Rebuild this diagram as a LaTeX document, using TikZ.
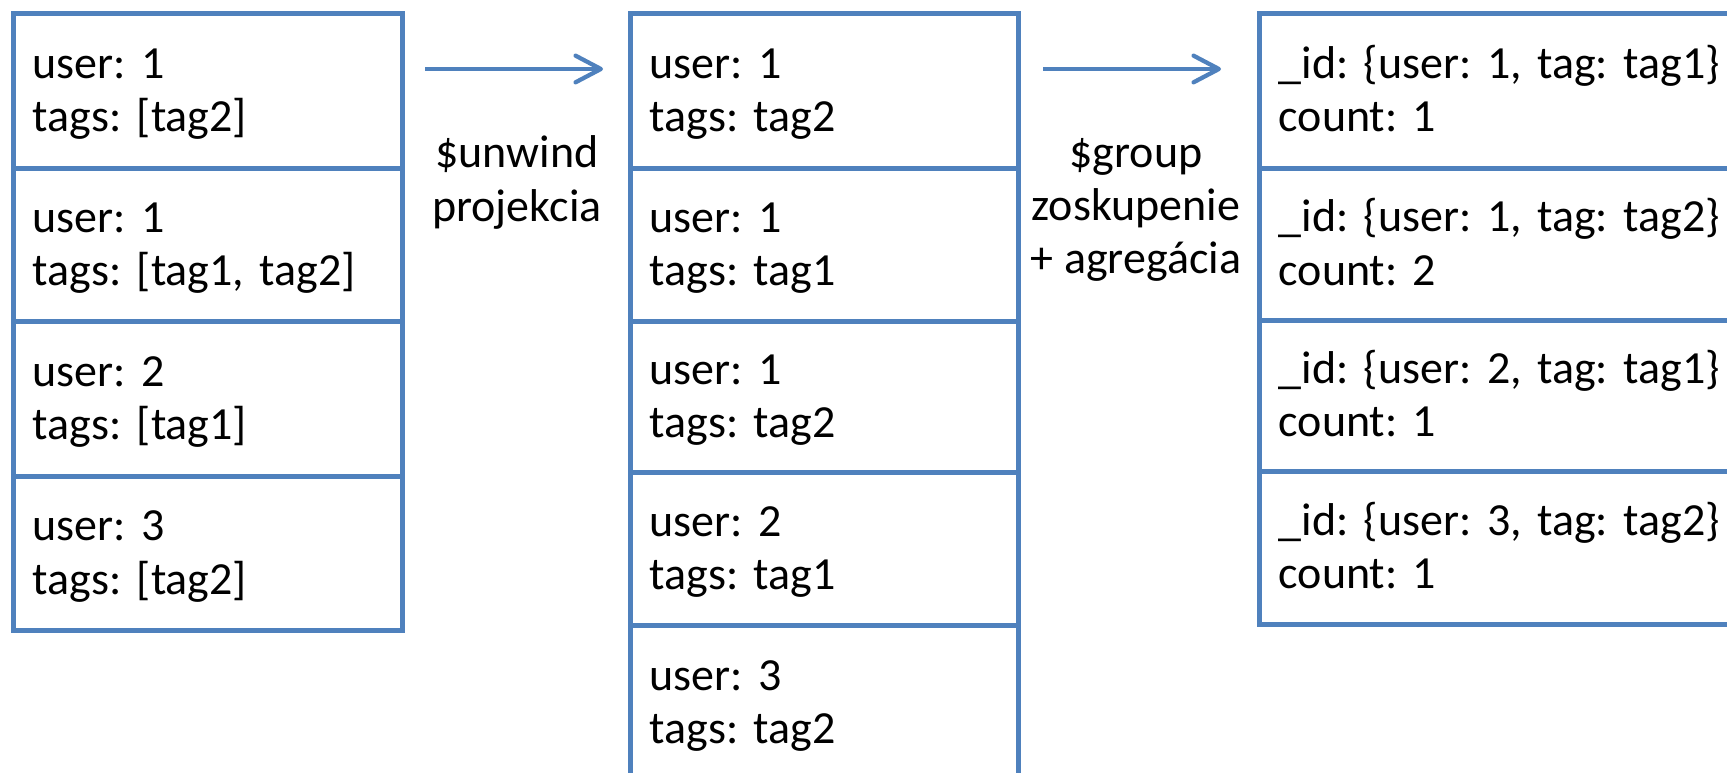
\documentclass[tikz,border=0pt]{standalone}
\usepackage{fontspec}
\setmainfont{Carlito}
\usetikzlibrary{arrows.meta}
\definecolor{officeblue}{HTML}{4F81BD}
\frenchspacing
\newcommand{\celltext}[2]{\rule{0pt}{33pt}#1\\#2\rule[-12pt]{0pt}{0pt}}
\tikzset{
  cell/.style={draw=officeblue, line width=3.6pt, rectangle, anchor=north west,
    inner xsep=14.5pt, inner ysep=0pt, align=left,
    font=\fontsize{34.5}{40}\selectfont\frenchspacing, text=black},
  lbl/.style={align=center, inner sep=0pt, font=\fontsize{34.5}{40}\selectfont\frenchspacing, text=black},
  flow/.style={draw=officeblue, line width=3.2pt, -{Straight Barb[length=19pt,width=20pt,round]}}
}
\begin{document}
\begin{tikzpicture}[x=0.75pt,y=-0.75pt]
\useasboundingbox (0,0) rectangle (1727,773);
\clip (0,0) rectangle (1727,773);
% left column
\node[cell, minimum width=291.75pt, minimum height=116.25pt, text width=262.75pt] (a1) at (11,11) {\celltext{user: 1}{tags: [tag2]}};
\node[cell, minimum width=291.75pt, minimum height=114.75pt, text width=262.75pt] (a2) at (11,166) {\celltext{user: 1}{tags: [tag1, tag2]}};
\node[cell, minimum width=291.75pt, minimum height=116.25pt, text width=262.75pt] (a3) at (11,319) {\celltext{user: 2}{tags: [tag1]}};
\node[cell, minimum width=291.75pt, minimum height=115.5pt, text width=262.75pt] (a4) at (11,474) {\celltext{user: 3}{tags: [tag2]}};
% middle column
\node[cell, minimum width=291pt, minimum height=116.25pt, text width=262pt] (b1) at (628,11) {\celltext{user: 1}{tags: tag2}};
\node[cell, minimum width=291pt, minimum height=114.75pt, text width=262pt] (b2) at (628,166) {\celltext{user: 1}{tags: tag1}};
\node[cell, minimum width=291pt, minimum height=113.25pt, text width=262pt] (b3) at (628,319) {\celltext{user: 1}{tags: tag2}};
\node[cell, minimum width=291pt, minimum height=114.75pt, text width=262pt] (b4) at (628,470) {\celltext{user: 2}{tags: tag1}};
\node[cell, minimum width=291pt, minimum height=116.25pt, text width=262pt] (b5) at (628,623) {\celltext{user: 3}{tags: tag2}};
% right column
\node[cell, minimum width=377.25pt, minimum height=116.25pt, text width=348.25pt] (c1) at (1257,11) {\celltext{\_id: \{user: 1, tag: tag1\}}{count: 1}};
\node[cell, minimum width=377.25pt, minimum height=114pt, text width=348.25pt] (c2) at (1257,166) {\celltext{\_id: \{user: 1, tag: tag2\}}{count: 2}};
\node[cell, minimum width=377.25pt, minimum height=113.25pt, text width=348.25pt] (c3) at (1257,318) {\celltext{\_id: \{user: 2, tag: tag1\}}{count: 1}};
\node[cell, minimum width=377.25pt, minimum height=114.75pt, text width=348.25pt] (c4) at (1257,469) {\celltext{\_id: \{user: 3, tag: tag2\}}{count: 1}};
% arrows
\coordinate (u1) at (425,69);
\coordinate (u2) at (603,69);
\coordinate (g1) at (1043,69);
\coordinate (g2) at (1221,69);
\draw[flow] (u1) -- (u2);
\draw[flow] (g1) -- (g2);
% labels
\node[lbl] (lu) at (517,184) {\strut\$unwind\\projekcia\strut};
\node[lbl] (lg) at (1136,210) {\strut\$group\\zoskupenie\\+ agregácia\strut};
\end{tikzpicture}
\end{document}
